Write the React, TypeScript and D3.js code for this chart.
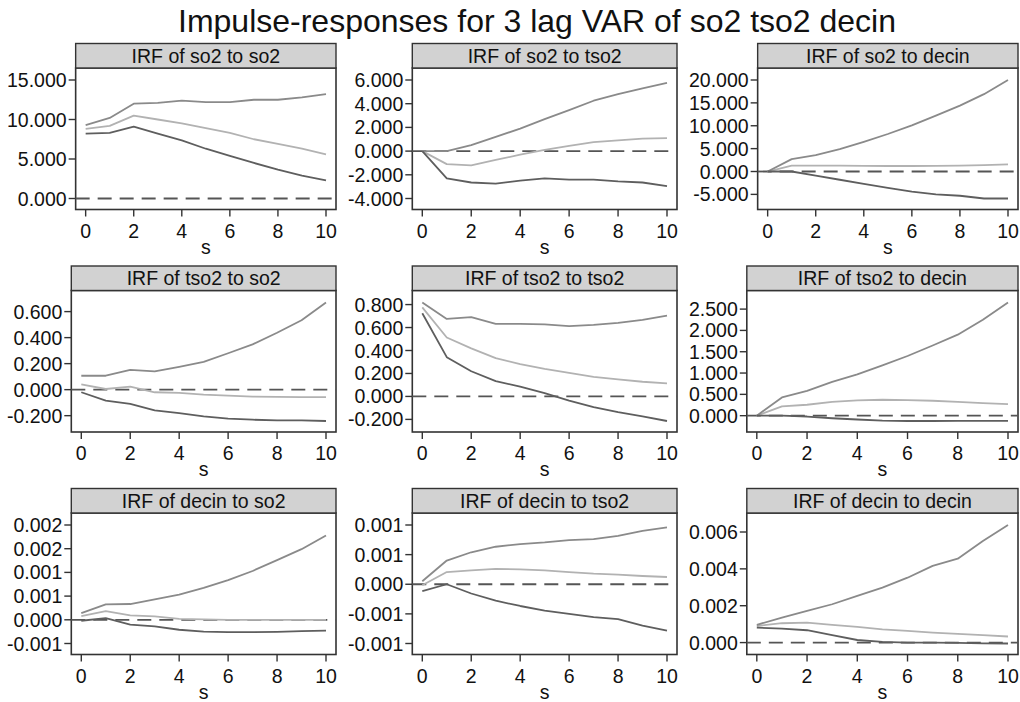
import React, { useEffect, useRef } from "react";
import * as d3 from "d3";

// forecast horizon
const steps = [0, 1, 2, 3, 4, 5, 6, 7, 8, 9, 10];
const xTicks = [0, 2, 4, 6, 8, 10];

const chartTitle = "Impulse-responses for 3 lag VAR of so2 tso2 decin";

// upper bound, irf, lower bound for every impulse -> response pair
const so2So2Upper = [9.3, 10.2, 12.0, 12.1, 12.4, 12.2, 12.2, 12.5, 12.5, 12.8, 13.2];
const so2So2Irf = [8.8, 9.2, 10.5, 10.0, 9.5, 8.9, 8.3, 7.5, 6.9, 6.3, 5.6];
const so2So2Lower = [8.2, 8.3, 9.1, 8.2, 7.35, 6.3, 5.4, 4.5, 3.65, 2.9, 2.3];
const so2So2Ticks = [0, 5, 10, 15];

const so2Tso2Upper = [0, 0.0, 0.5, 1.2, 1.9, 2.7, 3.45, 4.25, 4.8, 5.3, 5.75];
const so2Tso2Irf = [0, -1.1, -1.2, -0.75, -0.3, 0.1, 0.45, 0.75, 0.9, 1.05, 1.1];
const so2Tso2Lower = [0, -2.3, -2.65, -2.75, -2.5, -2.3, -2.4, -2.4, -2.55, -2.65, -2.95];
const so2Tso2Ticks = [-4, -2, 0, 2, 4, 6];

const so2DecinUpper = [0, 2.7, 3.6, 4.9, 6.5, 8.2, 10.1, 12.2, 14.4, 16.9, 20.0];
const so2DecinIrf = [0, 1.3, 1.3, 1.3, 1.25, 1.2, 1.2, 1.25, 1.3, 1.4, 1.55];
const so2DecinLower = [0, 0, -0.9, -1.8, -2.7, -3.6, -4.4, -5.0, -5.3, -5.9, -5.9];
const so2DecinTicks = [-5, 0, 5, 10, 15, 20];

const tso2So2Upper = [0.107, 0.107, 0.152, 0.14, 0.175, 0.213, 0.28, 0.348, 0.437, 0.533, 0.67];
const tso2So2Irf = [0.04, 0.005, 0.023, -0.02, -0.025, -0.038, -0.046, -0.053, -0.056, -0.058, -0.058];
const tso2So2Lower = [-0.02, -0.084, -0.11, -0.16, -0.18, -0.205, -0.223, -0.231, -0.236, -0.236, -0.241];
const tso2So2Ticks = [-0.2, 0, 0.2, 0.4, 0.6];

const tso2Tso2Upper = [0.818, 0.675, 0.69, 0.632, 0.632, 0.627, 0.613, 0.624, 0.641, 0.667, 0.704];
const tso2Tso2Irf = [0.775, 0.513, 0.419, 0.333, 0.282, 0.239, 0.205, 0.171, 0.148, 0.128, 0.114];
const tso2Tso2Lower = [0.724, 0.342, 0.219, 0.134, 0.085, 0.028, -0.037, -0.094, -0.137, -0.174, -0.214];
const tso2Tso2Ticks = [-0.2, 0, 0.2, 0.4, 0.6, 0.8];

const tso2DecinUpper = [0, 0.427, 0.582, 0.792, 0.97, 1.18, 1.4, 1.646, 1.9, 2.25, 2.655];
const tso2DecinIrf = [0, 0.217, 0.256, 0.326, 0.357, 0.373, 0.365, 0.35, 0.326, 0.295, 0.272];
const tso2DecinLower = [0, 0, -0.02, -0.06, -0.09, -0.115, -0.125, -0.125, -0.12, -0.12, -0.12];
const tso2DecinTicks = [0, 0.5, 1, 1.5, 2, 2.5];

const decinSo2Upper = [0.000142, 0.000326, 0.000333, 0.000432, 0.000531, 0.000673, 0.000836, 0.00103, 0.00126, 0.00149, 0.00178];
const decinSo2Irf = [0.000078, 0.000184, 0.000092, 0.000071, 0.000021, 0.000007, 0, 0, 0, 0, 0];
const decinSo2Lower = [-0.00002, 0.000035, -0.0001, -0.00014, -0.00021, -0.00025, -0.00026, -0.00026, -0.000255, -0.00024, -0.000227];
const decinSo2Ticks = [-0.0005, 0, 0.0005, 0.001, 0.0015, 0.002];

const decinTso2Upper = [0.00005, 0.0004, 0.00054, 0.000633, 0.000678, 0.000706, 0.000744, 0.000761, 0.000817, 0.0009, 0.00096];
const decinTso2Irf = [-0.000017, 0.000206, 0.000233, 0.000261, 0.00025, 0.000233, 0.000206, 0.000178, 0.000161, 0.000139, 0.000122];
const decinTso2Lower = [-0.000117, 0, -0.000156, -0.000278, -0.000367, -0.000444, -0.0005, -0.000556, -0.000589, -0.0007, -0.000783];
const decinTso2Ticks = [-0.001, -0.0005, 0, 0.0005, 0.001];

const decinDecinUpper = [0.00096, 0.00136, 0.00172, 0.00208, 0.00253, 0.00298, 0.00352, 0.00416, 0.00455, 0.00551, 0.00638];
const decinDecinIrf = [0.0009, 0.00105, 0.00108, 0.00096, 0.00085, 0.00072, 0.00063, 0.00054, 0.00047, 0.0004, 0.00033];
const decinDecinLower = [0.00081, 0.00076, 0.00067, 0.0004, 0.00014, 0.00004, 0, 0, -0.00002, -0.00004, -0.00005];
const decinDecinTicks = [0, 0.002, 0.004, 0.006];

const panelTitles = [
    "IRF of so2 to so2", "IRF of so2 to tso2", "IRF of so2 to decin",
    "IRF of tso2 to so2", "IRF of tso2 to tso2", "IRF of tso2 to decin",
    "IRF of decin to so2", "IRF of decin to tso2", "IRF of decin to decin",
];

const FONT = "'Liberation Sans', Arial, Helvetica, sans-serif";

const App = () => {
    const svgRef = useRef<SVGSVGElement>(null);

    useEffect(() => {
        const panels = [
            { upper: so2So2Upper, irf: so2So2Irf, lower: so2So2Lower, ticks: so2So2Ticks },
            { upper: so2Tso2Upper, irf: so2Tso2Irf, lower: so2Tso2Lower, ticks: so2Tso2Ticks },
            { upper: so2DecinUpper, irf: so2DecinIrf, lower: so2DecinLower, ticks: so2DecinTicks },
            { upper: tso2So2Upper, irf: tso2So2Irf, lower: tso2So2Lower, ticks: tso2So2Ticks },
            { upper: tso2Tso2Upper, irf: tso2Tso2Irf, lower: tso2Tso2Lower, ticks: tso2Tso2Ticks },
            { upper: tso2DecinUpper, irf: tso2DecinIrf, lower: tso2DecinLower, ticks: tso2DecinTicks },
            { upper: decinSo2Upper, irf: decinSo2Irf, lower: decinSo2Lower, ticks: decinSo2Ticks },
            { upper: decinTso2Upper, irf: decinTso2Irf, lower: decinTso2Lower, ticks: decinTso2Ticks },
            { upper: decinDecinUpper, irf: decinDecinIrf, lower: decinDecinLower, ticks: decinDecinTicks },
        ];

        const svg = d3.select(svgRef.current);
        svg.selectAll("*").remove(); // start clean

        svg.append("rect").attr("width", 1020).attr("height", 702).attr("fill", "#fff");

        svg.append("text")
            .attr("x", 537)
            .attr("y", 32)
            .attr("text-anchor", "middle")
            .attr("font-family", FONT)
            .attr("font-size", 32)
            .attr("fill", "#111")
            .text(chartTitle);

        const fmt = (v: number) => v.toFixed(3);
        const fontSize = 19.5;

        panels.forEach((p, i) => {
            const col = i % 3;
            const row = Math.floor(i / 3);
            const cellX = col * 341;
            const headerTop = 43.5 + row * 222.5;
            const headerH = 24.5;
            const frameTop = headerTop + headerH;
            const frameBottom = headerTop + 166;
            const frameRight = cellX + 336;

            const g = svg.append("g");

            // y labels first so their width sets the left edge
            const labels = g.selectAll("text.ylab")
                .data(p.ticks)
                .enter()
                .append("text")
                .attr("class", "ylab")
                .attr("font-family", FONT)
                .attr("font-size", fontSize)
                .attr("fill", "#111")
                .attr("text-anchor", "end")
                .attr("dy", "0.36em")
                .text((d) => fmt(d));

            let maxW = 0;
            labels.each(function () {
                maxW = Math.max(maxW, (this as SVGTextElement).getComputedTextLength());
            });
            const frameLeft = cellX + 7 + maxW + 9;

            const all = [...p.upper, ...p.irf, ...p.lower, ...p.ticks, 0];
            const y = d3.scaleLinear()
                .domain(d3.extent(all) as [number, number])
                .range([frameBottom - 11, frameTop + 12]);
            const x = d3.scaleLinear()
                .domain([0, 10])
                .range([frameLeft + 10, frameRight - 10]);

            labels.attr("x", frameLeft - 9).attr("y", (d) => y(d));

            // plot frame
            g.insert("rect", "text")
                .attr("x", frameLeft)
                .attr("y", frameTop)
                .attr("width", frameRight - frameLeft)
                .attr("height", frameBottom - frameTop)
                .attr("fill", "#fff")
                .attr("stroke", "#333")
                .attr("stroke-width", 1.6);

            // header strip
            g.append("rect")
                .attr("x", frameLeft)
                .attr("y", headerTop)
                .attr("width", frameRight - frameLeft)
                .attr("height", headerH)
                .attr("fill", "#d2d2d2")
                .attr("stroke", "#333")
                .attr("stroke-width", 1.4);

            g.append("text")
                .attr("x", (frameLeft + frameRight) / 2)
                .attr("y", headerTop + headerH / 2)
                .attr("dy", "0.36em")
                .attr("text-anchor", "middle")
                .attr("font-family", FONT)
                .attr("font-size", fontSize)
                .attr("fill", "#111")
                .text(panelTitles[i]);

            // y ticks
            g.selectAll("line.ytick")
                .data(p.ticks)
                .enter()
                .append("line")
                .attr("x1", frameLeft - 7)
                .attr("x2", frameLeft)
                .attr("y1", (d) => y(d))
                .attr("y2", (d) => y(d))
                .attr("stroke", "#333")
                .attr("stroke-width", 1.4);

            // x ticks
            g.selectAll("line.xtick")
                .data(xTicks)
                .enter()
                .append("line")
                .attr("x1", (d) => x(d))
                .attr("x2", (d) => x(d))
                .attr("y1", frameBottom)
                .attr("y2", frameBottom + 7)
                .attr("stroke", "#333")
                .attr("stroke-width", 1.4);

            g.selectAll("text.xlab")
                .data(xTicks)
                .enter()
                .append("text")
                .attr("x", (d) => x(d))
                .attr("y", frameBottom + 28)
                .attr("text-anchor", "middle")
                .attr("font-family", FONT)
                .attr("font-size", fontSize)
                .attr("fill", "#111")
                .text((d) => String(d));

            g.append("text")
                .attr("x", (frameLeft + frameRight) / 2)
                .attr("y", frameBottom + 44)
                .attr("text-anchor", "middle")
                .attr("font-family", FONT)
                .attr("font-size", fontSize)
                .attr("fill", "#111")
                .text("s");

            // zero reference line
            g.append("line")
                .attr("x1", frameLeft)
                .attr("x2", frameRight)
                .attr("y1", y(0))
                .attr("y2", y(0))
                .attr("stroke", "#555")
                .attr("stroke-width", 1.8)
                .attr("stroke-dasharray", "14 8");

            const line = d3.line<number>()
                .x((_, k) => x(steps[k]))
                .y((d) => y(d));

            const series = [
                { values: p.irf, color: "#b2b2b2" },
                { values: p.upper, color: "#8a8a8a" },
                { values: p.lower, color: "#5e5e5e" },
            ];

            series.forEach((s) => {
                g.append("path")
                    .attr("d", line(s.values))
                    .attr("fill", "none")
                    .attr("stroke", s.color)
                    .attr("stroke-width", 1.8)
                    .attr("stroke-linejoin", "round");
            });
        });
    }, []);

    return (
        <svg
            ref={svgRef}
            width={1020}
            height={702}
            style={{ position: "absolute", left: 0, top: 0, display: "block" }}
        />
    );
};

export default App;
